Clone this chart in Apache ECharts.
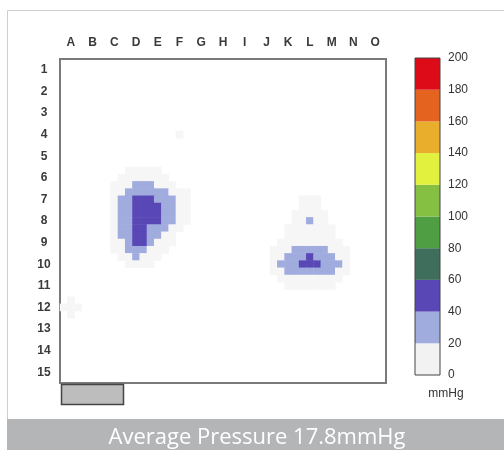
<!DOCTYPE html>
<html>
<head>
<meta charset="utf-8">
<script src="https://cdn.jsdelivr.net/npm/echarts@6/dist/echarts.min.js"></script>
<style>html,body{margin:0;padding:0;background:#fff;}#c{width:504px;height:450px;}</style>
</head>
<body>
<div id="c"></div>
<script>
// ---- categories / tick labels ----
const colLabels = ['A','B','C','D','E','F','G','H','I','J','K','L','M','N','O'];
const rowLabels = ['1','2','3','4','5','6','7','8','9','10','11','12','13','14','15'];
const SUB = 3; // fine cells per sensor cell

// ---- colour scale (mmHg) ----
const bandEdges = [0,20,40,60,80,100,120,140,160,180,200];
const bandColors = ['#f6f6f6','#a0abde','#5847b5','#3f6e5c','#4f9e44','#85c043','#e2f03e','#e9ae2c','#e3631f','#dc0b17'];

// ---- pressure readings: [fineRow, startFineCol, values...] ----
const leftBlobRuns = [
  [15, 9, [8,9,10,9,8]],
  [16, 8, [8,10,12,12,12,10,8]],
  [17, 7, [8,10,16,24,26,24,16,10,8]],
  [18, 7, [9,16,26,32,34,34,30,26,16,10,8]],
  [19, 7, [12,24,32,44,46,46,36,32,24,12,8]],
  [20, 7, [14,26,34,48,52,50,44,34,26,12,8]],
  [21, 7, [14,26,34,50,54,52,44,34,24,12,8]],
  [22, 7, [13,25,34,50,52,48,42,32,22,12,8]],
  [23, 7, [12,24,34,48,46,40,32,24,16,10]],
  [24, 7, [10,22,32,46,44,34,26,16,10]],
  [25, 7, [9,18,30,44,42,28,16,12,9]],
  [26, 7, [8,14,26,34,30,18,12,9]],
  [27, 8, [12,18,24,16,12,9]],
  [28, 9, [9,10,9,8]]
];
const rightBlobRuns = [
  [19, 33, [8,10,8]],
  [20, 33, [10,12,10]],
  [21, 32, [8,12,14,12,8]],
  [22, 32, [12,16,28,16,12]],
  [23, 31, [8,12,15,16,15,12,8]],
  [24, 31, [10,13,16,17,16,13,10]],
  [25, 30, [8,12,15,18,19,18,15,12,8]],
  [26, 29, [8,11,16,24,28,30,28,24,16,11,8]],
  [27, 29, [9,16,24,30,34,42,34,30,24,16,9]],
  [28, 29, [10,24,30,36,44,52,44,36,30,24,10]],
  [29, 29, [9,16,24,30,34,38,34,30,24,16,9]],
  [30, 30, [12,16,18,18,18,18,18,16,12]],
  [31, 31, [10,12,12,12,10,9,8]]
];
const spotRuns = [
  [10, 16, [12]],
  [33, 1, [10]],
  [34, 0, [8,12,10]],
  [35, 1, [9]]
];
const averagePressure = '17.8';

// ---- build ----
const nFine = colLabels.length * SUB;
const fineCats = Array.from({length: nFine}, (_, i) => String(i));
const heatData = [];
[leftBlobRuns, rightBlobRuns, spotRuns].forEach(runs => runs.forEach(([r, c0, vals]) => {
  vals.forEach((v, k) => heatData.push([c0 + k, r, v]));
}));
const pieces = bandColors.map((col, i) => ({min: bandEdges[i], max: bandEdges[i+1], color: col}));
const barSeries = bandColors.map((col, i) => ({
  type: 'bar', xAxisIndex: 2, yAxisIndex: 2, stack: 'cb', barWidth: '100%',
  data: [bandEdges[i+1] - bandEdges[i]], itemStyle: {color: i === 0 ? '#f2f2f2' : col}, silent: true
}));

const labelFont = {fontFamily: 'Liberation Sans, Arial, sans-serif', fontWeight: 'bold', fontSize: 12, color: '#3a3a3a'};

const chart = echarts.init(document.getElementById('c'), null, {renderer: 'canvas'});
chart.setOption({
  animation: false,
  backgroundColor: '#fff',
  grid: [
    {left: 60, top: 59, width: 326, height: 324, show: true, backgroundColor: '#fff', borderColor: '#7a7a7a', borderWidth: 2, z: 1},
    {left: 415, top: 58, width: 25, height: 317, show: true, borderColor: '#444', borderWidth: 1, z: 5}
  ],
  xAxis: [
    {type: 'category', gridIndex: 0, data: fineCats, show: false},
    {type: 'category', gridIndex: 0, data: colLabels, position: 'top',
     axisLine: {show: false}, axisTick: {show: false}, axisLabel: Object.assign({margin: 10}, labelFont)},
    {type: 'category', gridIndex: 1, data: [''], show: false}
  ],
  yAxis: [
    {type: 'category', gridIndex: 0, data: fineCats, inverse: true, show: false},
    {type: 'category', gridIndex: 0, data: rowLabels, inverse: true, position: 'left',
     axisLine: {show: false}, axisTick: {show: false}, axisLabel: Object.assign({margin: 16, align: 'center'}, labelFont)},
    {type: 'value', gridIndex: 1, min: 0, max: 200, interval: 20, position: 'right',
     axisLine: {show: false}, axisTick: {show: false}, splitLine: {show: false},
     axisLabel: {margin: 8, padding: [5, 0, 0, 0], fontFamily: 'Liberation Sans, Arial, sans-serif', fontSize: 12, color: '#333'}}
  ],
  visualMap: {type: 'piecewise', show: false, seriesIndex: 0, pieces: pieces},
  graphic: [
    {type: 'rect', z: -10, shape: {x: 7.5, y: 10.5, width: 520, height: 450}, style: {fill: '#fff', stroke: '#cfcfcf', lineWidth: 1}},
    {type: 'rect', z: 10, shape: {x: 7, y: 419, width: 520, height: 40}, style: {fill: '#b4b5b7'}},
    {type: 'text', z: 11, x: 257, y: 438, style: {text: 'Average Pressure ' + averagePressure + 'mmHg', fill: '#fff',
      font: '22px "Open Sans", sans-serif', textAlign: 'center', textVerticalAlign: 'middle'}},
    {type: 'rect', z: 10, shape: {x: 61.5, y: 384.5, width: 62, height: 20}, style: {fill: '#bdbdbd', stroke: '#444', lineWidth: 1.5}},
    {type: 'text', z: 11, x: 446, y: 394, style: {text: 'mmHg', fill: '#333', font: '12px "Liberation Sans", Arial, sans-serif',
      textAlign: 'center', textVerticalAlign: 'middle'}}
  ],
  series: [
    {type: 'heatmap', xAxisIndex: 0, yAxisIndex: 0, data: heatData, z: 2, itemStyle: {borderWidth: 0}}
  ].concat(barSeries)
});
</script>
</body>
</html>
